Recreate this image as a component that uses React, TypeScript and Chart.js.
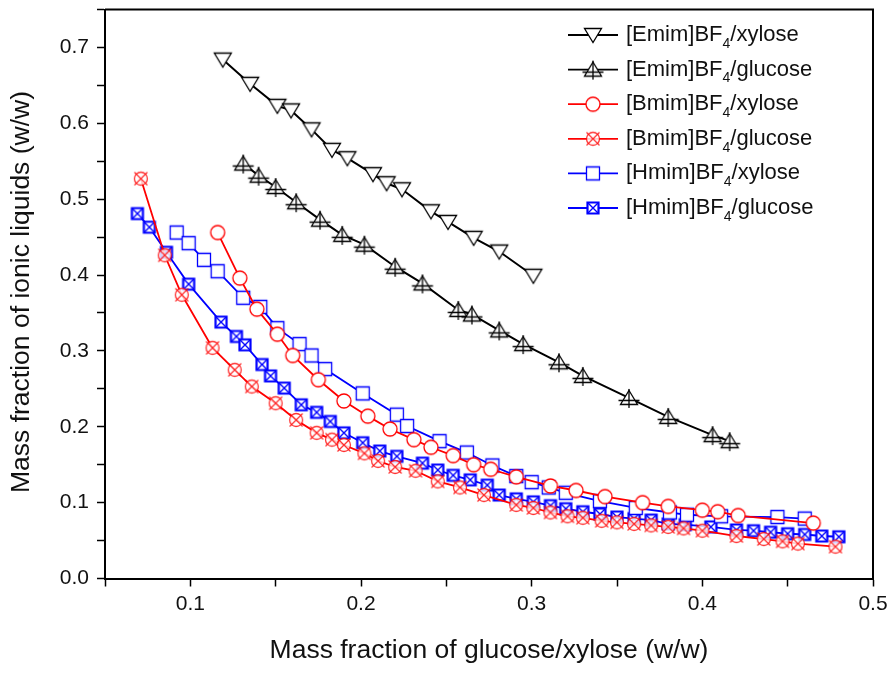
import React, { useEffect, useRef } from 'react';
import { Chart, registerables } from 'chart.js';
Chart.register(...registerables);

const FONT = "'Liberation Sans', Arial, Helvetica, sans-serif";

// ---- data ----
const emimXyloseX = [0.119, 0.135, 0.151, 0.159, 0.171, 0.183, 0.192, 0.207, 0.215, 0.224, 0.241, 0.251, 0.266, 0.281, 0.301];
const emimXyloseY = [0.684, 0.652, 0.623, 0.617, 0.592, 0.565, 0.554, 0.533, 0.521, 0.513, 0.484, 0.470, 0.449, 0.431, 0.399];

const emimGlucoseX = [0.131, 0.140, 0.150, 0.162, 0.176, 0.189, 0.202, 0.220, 0.236, 0.257, 0.265, 0.281, 0.295, 0.316, 0.330, 0.357, 0.380, 0.406, 0.416];
const emimGlucoseY = [0.547, 0.531, 0.516, 0.496, 0.473, 0.453, 0.440, 0.411, 0.389, 0.354, 0.348, 0.327, 0.309, 0.285, 0.267, 0.238, 0.213, 0.189, 0.181];

const bmimXyloseX = [0.116, 0.129, 0.139, 0.151, 0.160, 0.175, 0.190, 0.204, 0.217, 0.231, 0.241, 0.254, 0.266, 0.276, 0.291, 0.311, 0.326, 0.343, 0.365, 0.380, 0.400, 0.409, 0.421, 0.465];
const bmimXyloseY = [0.456, 0.396, 0.355, 0.322, 0.294, 0.262, 0.234, 0.214, 0.197, 0.183, 0.173, 0.162, 0.150, 0.144, 0.134, 0.122, 0.116, 0.108, 0.100, 0.095, 0.090, 0.088, 0.083, 0.073];

const bmimGlucoseX = [0.071, 0.085, 0.095, 0.113, 0.126, 0.136, 0.150, 0.162, 0.174, 0.183, 0.190, 0.202, 0.210, 0.220, 0.232, 0.245, 0.258, 0.272, 0.291, 0.301, 0.311, 0.321, 0.330, 0.341, 0.350, 0.360, 0.370, 0.380, 0.389, 0.400, 0.420, 0.436, 0.447, 0.456, 0.478];
const bmimGlucoseY = [0.527, 0.426, 0.374, 0.304, 0.275, 0.253, 0.231, 0.209, 0.192, 0.183, 0.176, 0.165, 0.155, 0.147, 0.142, 0.128, 0.120, 0.110, 0.097, 0.093, 0.087, 0.082, 0.080, 0.076, 0.074, 0.072, 0.070, 0.068, 0.066, 0.063, 0.056, 0.052, 0.049, 0.046, 0.042];

const hmimXyloseX = [0.092, 0.099, 0.108, 0.116, 0.131, 0.141, 0.151, 0.164, 0.171, 0.179, 0.201, 0.221, 0.227, 0.246, 0.262, 0.277, 0.291, 0.300, 0.310, 0.320, 0.340, 0.361, 0.381, 0.391, 0.411, 0.444, 0.460];
const hmimXyloseY = [0.456, 0.442, 0.420, 0.405, 0.370, 0.358, 0.330, 0.309, 0.294, 0.276, 0.244, 0.216, 0.201, 0.181, 0.166, 0.149, 0.135, 0.127, 0.120, 0.113, 0.102, 0.093, 0.087, 0.084, 0.082, 0.081, 0.079];

const hmimGlucoseX = [0.069, 0.076, 0.086, 0.099, 0.118, 0.127, 0.132, 0.142, 0.147, 0.155, 0.165, 0.174, 0.182, 0.190, 0.201, 0.211, 0.221, 0.236, 0.245, 0.254, 0.264, 0.274, 0.281, 0.291, 0.301, 0.311, 0.320, 0.330, 0.340, 0.350, 0.360, 0.370, 0.380, 0.390, 0.405, 0.420, 0.430, 0.440, 0.450, 0.460, 0.470, 0.480];
const hmimGlucoseY = [0.481, 0.463, 0.430, 0.388, 0.338, 0.319, 0.308, 0.282, 0.267, 0.251, 0.229, 0.219, 0.207, 0.192, 0.179, 0.168, 0.161, 0.152, 0.143, 0.136, 0.130, 0.123, 0.110, 0.105, 0.101, 0.096, 0.092, 0.088, 0.085, 0.081, 0.079, 0.077, 0.072, 0.071, 0.068, 0.064, 0.063, 0.061, 0.059, 0.058, 0.056, 0.055];

const seriesIonic = ['Emim', 'Emim', 'Bmim', 'Bmim', 'Hmim', 'Hmim'];
const seriesSugar = ['xylose', 'glucose', 'xylose', 'glucose', 'xylose', 'glucose'];
const seriesColors = ['#000000', '#000000', '#ff0000', '#ff0000', '#0000ff', '#0000ff'];
const seriesMarkers = ['down', 'upplus', 'circle', 'circlex', 'square', 'squarex'];

const xTickLabels = ['0.1', '0.2', '0.3', '0.4', '0.5'];
const yTickLabels = ['0.0', '0.1', '0.2', '0.3', '0.4', '0.5', '0.6', '0.7'];
const xTitle = 'Mass fraction of glucose/xylose (w/w)';
const yTitle = 'Mass fraction of ionic liquids (w/w)';

function zip(xs: number[], ys: number[]) {
  return xs.map((x, i) => ({ x, y: ys[i] }));
}

function makeMarker(kind: string, color: string): HTMLCanvasElement {
  const s = 26;
  const c = document.createElement('canvas');
  c.width = s;
  c.height = s;
  const g = c.getContext('2d')!;
  const m = s / 2;
  g.strokeStyle = color;
  g.fillStyle = '#ffffff';
  g.lineWidth = 1.3;
  if (kind === 'down') {
    g.beginPath();
    g.moveTo(m - 8.5, m - 6.5);
    g.lineTo(m + 8.5, m - 6.5);
    g.lineTo(m, m + 7.5);
    g.closePath();
    g.fill();
    g.stroke();
  } else if (kind === 'upplus') {
    g.beginPath();
    g.moveTo(m, m - 7.5);
    g.lineTo(m + 8.5, m + 6.5);
    g.lineTo(m - 8.5, m + 6.5);
    g.closePath();
    g.fill();
    g.stroke();
    g.beginPath();
    g.moveTo(m, m - 9);
    g.lineTo(m, m + 10);
    g.moveTo(m - 10.5, m + 2.5);
    g.lineTo(m + 10.5, m + 2.5);
    g.stroke();
  } else if (kind === 'circle') {
    g.beginPath();
    g.arc(m, m, 7, 0, Math.PI * 2);
    g.fill();
    g.stroke();
  } else if (kind === 'circlex') {
    g.globalAlpha = 0.8;
    g.beginPath();
    g.arc(m, m, 6.5, 0, Math.PI * 2);
    g.fill();
    g.stroke();
    g.beginPath();
    g.moveTo(m - 6.5, m - 6.5);
    g.lineTo(m + 6.5, m + 6.5);
    g.moveTo(m + 6.5, m - 6.5);
    g.lineTo(m - 6.5, m + 6.5);
    g.stroke();
  } else if (kind === 'square') {
    g.beginPath();
    g.rect(m - 6.5, m - 6.5, 13, 13);
    g.fill();
    g.stroke();
  } else if (kind === 'squarex') {
    g.lineWidth = 2.2;
    g.beginPath();
    g.rect(m - 5.5, m - 5.5, 11, 11);
    g.fill();
    g.stroke();
    g.lineWidth = 1.4;
    g.beginPath();
    g.moveTo(m - 5, m - 5);
    g.lineTo(m + 5, m + 5);
    g.moveTo(m + 5, m - 5);
    g.lineTo(m - 5, m + 5);
    g.stroke();
  }
  return c;
}

export default function App() {
  const ref = useRef<HTMLCanvasElement | null>(null);

  useEffect(() => {
    if (!ref.current) return;
    const markers = seriesMarkers.map((k, i) => makeMarker(k, seriesColors[i]));
    const xs = [emimXyloseX, emimGlucoseX, bmimXyloseX, bmimGlucoseX, hmimXyloseX, hmimGlucoseX];
    const ys = [emimXyloseY, emimGlucoseY, bmimXyloseY, bmimGlucoseY, hmimXyloseY, hmimGlucoseY];

    const datasets = xs.map((xArr, i) => ({
      label: `[${seriesIonic[i]}]BF4/${seriesSugar[i]}`,
      data: zip(xArr, ys[i]),
      showLine: true,
      borderColor: seriesColors[i],
      borderWidth: i < 2 ? 2 : 1.8,
      pointStyle: markers[i],
      pointRadius: 7,
      pointHoverRadius: 7,
      tension: 0,
    }));

    const decor = {
      id: 'decor',
      afterDraw(chart: any) {
        const ctx = chart.ctx;
        const a = chart.chartArea;
        ctx.save();
        // frame
        ctx.strokeStyle = '#000';
        ctx.lineWidth = 2;
        ctx.beginPath();
        ctx.moveTo(a.left, a.top);
        ctx.lineTo(a.right, a.top);
        ctx.lineTo(a.right, a.bottom);
        ctx.stroke();

        // axis titles
        ctx.fillStyle = '#111';
        ctx.font = `26.5px ${FONT}`;
        ctx.textAlign = 'center';
        ctx.textBaseline = 'middle';
        ctx.fillText(xTitle, (a.left + a.right) / 2, 651);
        ctx.save();
        ctx.translate(22, 292);
        ctx.rotate(-Math.PI / 2);
        ctx.fillText(yTitle, 0, 0);
        ctx.restore();

        // legend
        const lx0 = 568, lx1 = 618, tx = 626;
        for (let i = 0; i < 6; i++) {
          const y = 35 + i * 34.6;
          ctx.strokeStyle = seriesColors[i];
          ctx.lineWidth = 1.8;
          ctx.beginPath();
          ctx.moveTo(lx0, y);
          ctx.lineTo(lx1, y);
          ctx.stroke();
          const mk = markers[i];
          ctx.drawImage(mk, (lx0 + lx1) / 2 - mk.width / 2, y - mk.height / 2);
          ctx.fillStyle = '#111';
          ctx.textAlign = 'left';
          ctx.textBaseline = 'middle';
          ctx.font = `22px ${FONT}`;
          const t1 = `[${seriesIonic[i]}]BF`;
          ctx.fillText(t1, tx, y);
          let w = ctx.measureText(t1).width;
          ctx.font = `14px ${FONT}`;
          ctx.fillText('4', tx + w, y + 9);
          w += ctx.measureText('4').width;
          ctx.font = `22px ${FONT}`;
          ctx.fillText(`/${seriesSugar[i]}`, tx + w, y);
        }
        ctx.restore();
      },
    };

    const chart = new Chart(ref.current, {
      type: 'scatter',
      data: { datasets },
      options: {
        responsive: false,
        animation: false,
        devicePixelRatio: 1,
        layout: { padding: { top: 9.5, right: 23, left: 0, bottom: 0 } },
        plugins: { legend: { display: false }, tooltip: { enabled: false } },
        scales: {
          x: {
            type: 'linear',
            min: 0.05,
            max: 0.5,
            afterFit: (s: any) => {
              s.height = 95.5;
              s.paddingLeft = 0;
              s.paddingRight = 0;
            },
            ticks: {
              stepSize: 0.05,
              autoSkip: false,
              maxRotation: 0,
              padding: 5,
              color: '#111',
              font: { family: FONT, size: 21 },
              callback: (v: any) => {
                const idx = xTickLabels.findIndex((l) => Math.abs(parseFloat(l) - Number(v)) < 1e-6);
                return idx >= 0 ? xTickLabels[idx] : '';
              },
            },
            grid: { drawOnChartArea: false, drawTicks: true, tickLength: 8, tickWidth: 1.5, tickColor: '#000' },
            border: { display: true, color: '#000', width: 2 },
          },
          y: {
            type: 'linear',
            min: 0,
            max: 0.75,
            afterFit: (s: any) => {
              s.width = 105;
              s.paddingTop = 0;
              s.paddingBottom = 0;
            },
            ticks: {
              stepSize: 0.05,
              autoSkip: false,
              padding: 8,
              color: '#111',
              font: { family: FONT, size: 21 },
              callback: (v: any) => {
                const idx = yTickLabels.findIndex((l) => Math.abs(parseFloat(l) - Number(v)) < 1e-6);
                return idx >= 0 ? yTickLabels[idx] : '';
              },
            },
            grid: { drawOnChartArea: false, drawTicks: true, tickLength: 8, tickWidth: 1.5, tickColor: '#000' },
            border: { display: true, color: '#000', width: 2 },
          },
        },
      },
      plugins: [decor],
    } as any);
    return () => chart.destroy();
  }, []);

  return (
    <div style={{ position: 'absolute', left: 0, top: 0, width: 896, height: 674, background: '#fff' }}>
      <canvas ref={ref} width={896} height={674} style={{ display: 'block', width: 896, height: 674 }} />
    </div>
  );
}
